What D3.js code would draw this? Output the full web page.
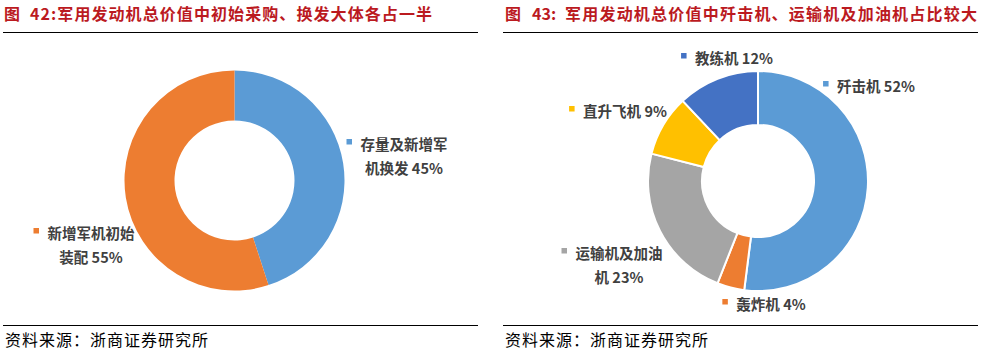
<!DOCTYPE html>
<html>
<head>
<meta charset="utf-8">
<script src="https://cdn.jsdelivr.net/npm/d3@7"></script>
<style>
  body { margin: 0; background: #fff; }
  svg { display: block; }
  text { font-family: "Noto Sans CJK SC", "Noto Sans", sans-serif; }
</style>
</head>
<body>
<div id="chart"></div>
<script>
// chart 42
var leftCats = ["存量及新增军机换发", "新增军机初始装配"];
var leftVals = [45, 55];
var leftLines = [["存量及新增军", "机换发 45%"], ["新增军机初始", "装配 55%"]];
var leftColors = ["#5b9bd5", "#ed7d31"];

// chart 43
var rightCats = ["歼击机", "轰炸机", "运输机及加油机", "直升飞机", "教练机"];
var rightVals = [52, 4, 23, 9, 12];
var rightLines = [["歼击机 52%"], ["轰炸机 4%"], ["运输机及加油", "机 23%"], ["直升飞机 9%"], ["教练机 12%"]];
var rightColors = ["#5b9bd5", "#ed7d31", "#a5a5a5", "#ffc000", "#4472c4"];

var W = 989, H = 353;
var svg = d3.select("#chart").append("svg")
    .attr("width", W)
    .attr("height", H);

var titleColor = "#bb1a1f";

// parts: [x, text, textLength or null]
function header(x0, x1, parts) {
  var t = svg.append("text")
      .attr("y", 20)
      .attr("fill", titleColor)
      .attr("font-size", 16)
      .attr("font-weight", "bold");
  parts.forEach(function(p) {
    var s = t.append("tspan").attr("x", p[0]).text(p[1]);
    if (p[2]) s.attr("textLength", p[2]).attr("lengthAdjust", "spacing");
  });
  svg.append("line")
      .attr("x1", x0).attr("x2", x1)
      .attr("y1", 32.5).attr("y2", 32.5)
      .attr("stroke", "#000").attr("stroke-width", 1);
  svg.append("line")
      .attr("x1", x0).attr("x2", x1)
      .attr("y1", 325.5).attr("y2", 325.5)
      .attr("stroke", "#000").attr("stroke-width", 1);
  svg.append("text")
      .attr("x", x0 + 2)
      .attr("y", 346)
      .attr("font-size", 16)
      .attr("textLength", 203)
      .attr("lengthAdjust", "spacing")
      .attr("fill", "#000")
      .text("资料来源：浙商证券研究所");
}

header(3, 478, [[4, "图"], [30, "42:军用发动机总价值中初始采购、换发大体各占一半", 402]]);
header(503, 978, [[505, "图"], [532, "43:"], [565, "军用发动机总价值中歼击机、运输机及加油机占比较大", 412]]);

function donut(cx, cy, rOut, rIn, vals, colors, lines, labelPos, sep) {
  var g = svg.append("g").attr("transform", "translate(" + cx + "," + cy + ")");
  var pie = d3.pie().sort(null).value(function(d) { return d; });
  var arc = d3.arc().innerRadius(rIn).outerRadius(rOut);
  g.selectAll("path")
      .data(pie(vals))
      .enter().append("path")
      .attr("d", arc)
      .attr("fill", function(d, i) { return colors[i]; })
      .attr("stroke", sep ? "#fff" : "none")
      .attr("stroke-width", sep ? 2 : 0);

  lines.forEach(function(ls, i) {
    var p = labelPos[i];
    var lg = svg.append("g");
    var w0 = 0;
    ls.forEach(function(s, j) {
      var t = lg.append("text")
          .attr("x", p[0])
          .attr("y", p[1] + j * 24)
          .attr("dy", "0.35em")
          .attr("text-anchor", "middle")
          .attr("font-size", 14.5)
          .attr("font-weight", "bold")
          .attr("fill", "#404040")
          .text(s);
      if (j === 0) w0 = t.node().getComputedTextLength();
    });
    lg.append("rect")
        .attr("x", p[0] - w0 / 2 - 14)
        .attr("y", p[1] - 6)
        .attr("width", 5.5)
        .attr("height", 5.5)
        .attr("fill", colors[i]);
  });
}

donut(234.5, 180.5, 110, 60, leftVals, leftColors, leftLines,
      [[404, 145], [91, 234]], false);
donut(758, 181, 110, 56, rightVals, rightColors, rightLines,
      [[876, 87], [771, 305], [619, 254], [625, 112], [734, 59]], true);
</script>
</body>
</html>
